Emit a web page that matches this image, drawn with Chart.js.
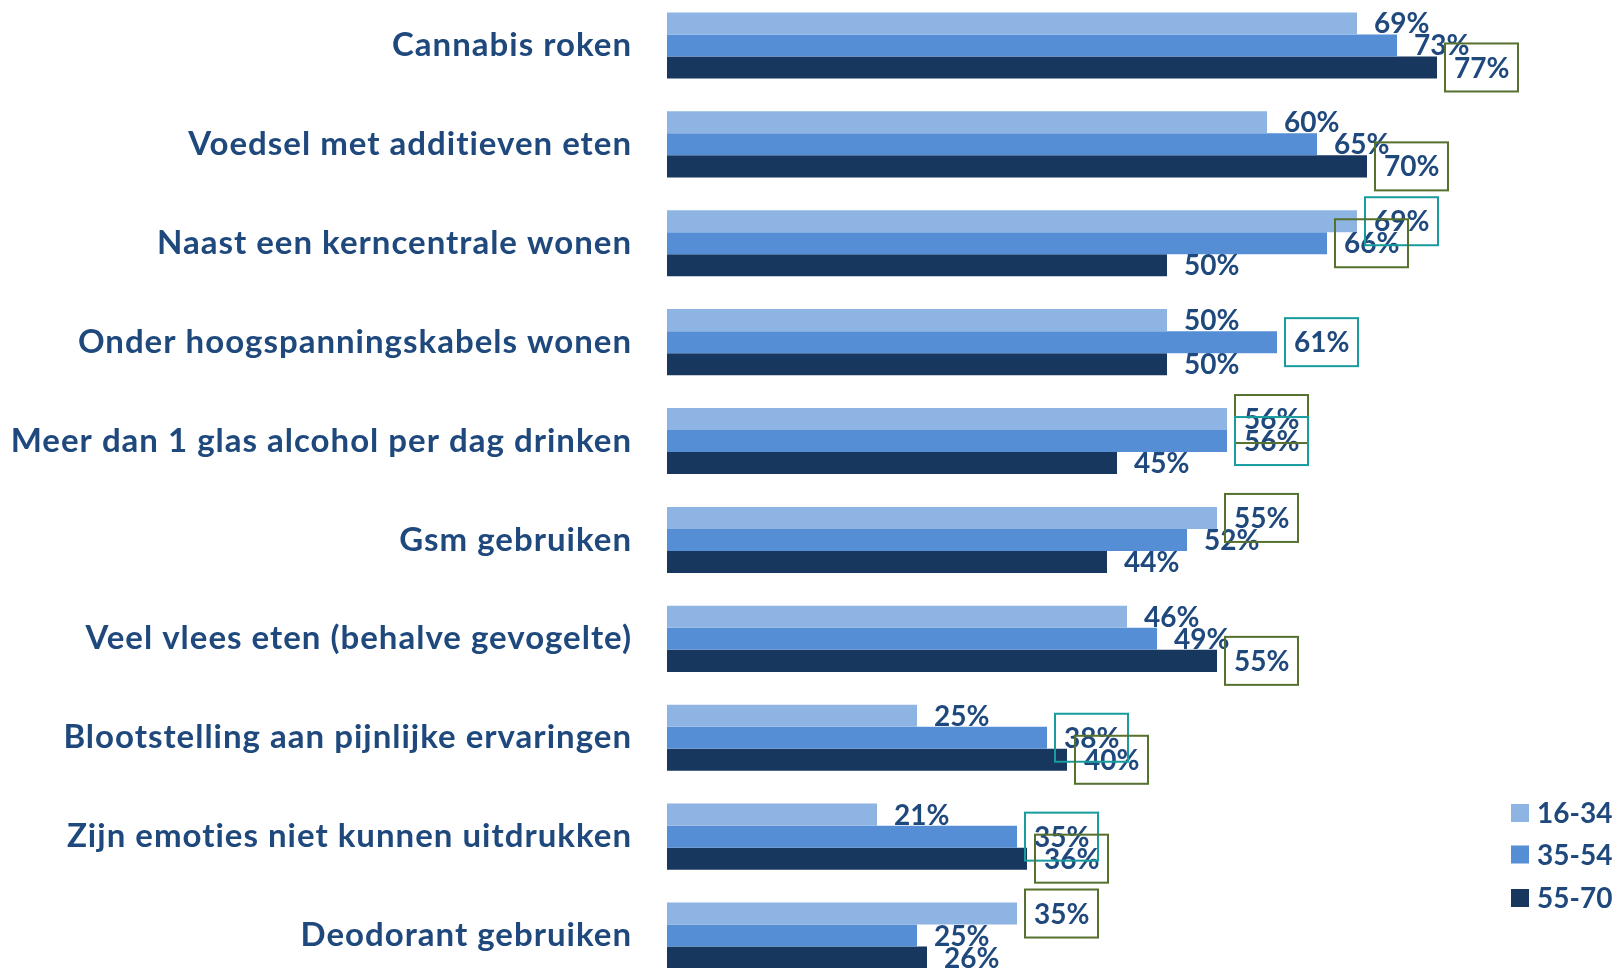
<!DOCTYPE html>
<html>
<head>
<meta charset="utf-8">
<script src="https://cdn.jsdelivr.net/npm/chart.js@4.4.0/dist/chart.umd.min.js"></script>
<style>
  html, body { margin: 0; padding: 0; background: #ffffff; overflow: hidden; }
  #wrap { position: absolute; left: 0; top: -4px; width: 1614px; height: 989px; }
</style>
</head>
<body>
<div id="wrap"><canvas id="c" width="1614" height="989"></canvas></div>
<script>
// ---- Data ----
const categories = [
  "Cannabis roken",
  "Voedsel met additieven eten",
  "Naast een kerncentrale wonen",
  "Onder hoogspanningskabels wonen",
  "Meer dan 1 glas alcohol per dag drinken",
  "Gsm gebruiken",
  "Veel vlees eten (behalve gevogelte)",
  "Blootstelling aan pijnlijke ervaringen",
  "Zijn emoties niet kunnen uitdrukken",
  "Deodorant gebruiken"
];
const seriesNames = ["16-34", "35-54", "55-70"];
const values1634 = [69, 60, 69, 50, 56, 55, 46, 25, 21, 35];
const values3554 = [73, 65, 66, 61, 56, 52, 49, 38, 35, 25];
const values5570 = [77, 70, 50, 50, 45, 44, 55, 40, 36, 26];
// highlight boxes around labels: 'g' = olive, 't' = teal
const boxes1634 = [null, null, 't', null, 'g', 'g', null, null, null, 'g'];
const boxes3554 = [null, null, 'g', 't', 't', null, null, 't', 't', null];
const boxes5570 = ['g', 'g', null, null, null, null, 'g', 'g', 'g', null];

const colors = ['#8EB4E3', '#558ED5', '#17375E'];
const textColor = '#1F497D';
const boxColors = { g: '#56702E', t: '#189C9E' };
const labelFont = '700 28px Lato';
const boxSets = [boxes1634, boxes3554, boxes5570];

const spacing = {
  id: 'spacing',
  beforeDraw(chart) { chart.ctx.letterSpacing = '1px'; },
  afterDatasetsDraw(chart) { chart.ctx.letterSpacing = '0px'; }
};

const valueLabels = {
  id: 'valueLabels',
  afterDatasetsDraw(chart) {
    const ctx = chart.ctx;
    ctx.save();
    ctx.letterSpacing = '0px';
    ctx.font = labelFont;
    ctx.fillStyle = textColor;
    ctx.textAlign = 'left';
    ctx.textBaseline = 'middle';
    chart.data.datasets.forEach((ds, i) => {
      const meta = chart.getDatasetMeta(i);
      meta.data.forEach((bar, j) => {
        ctx.fillText(ds.data[j] + '%', bar.x + 17, bar.y + 1);
      });
    });
    ctx.lineWidth = 2;
    chart.data.datasets.forEach((ds, i) => {
      const meta = chart.getDatasetMeta(i);
      meta.data.forEach((bar, j) => {
        const b = boxSets[i][j];
        if (!b) return;
        ctx.strokeStyle = boxColors[b];
        ctx.strokeRect(bar.x + 8, bar.y - 24, 73, 48);
      });
    });
    ctx.restore();
  }
};

const customLegend = {
  id: 'customLegend',
  afterDraw(chart) {
    const ctx = chart.ctx;
    ctx.save();
    ctx.letterSpacing = '0px';
    ctx.font = labelFont;
    ctx.textAlign = 'left';
    ctx.textBaseline = 'middle';
    const rows = [817, 858.5, 902];
    chart.data.datasets.forEach((ds, i) => {
      ctx.fillStyle = ds.backgroundColor;
      ctx.fillRect(1511, rows[i] - 9, 18, 18);
      ctx.fillStyle = textColor;
      ctx.fillText(ds.label, 1537, rows[i] + 1);
    });
    ctx.restore();
  }
};

new Chart(document.getElementById('c'), {
  type: 'bar',
  data: {
    labels: categories,
    datasets: [
      { label: seriesNames[0], data: values1634, backgroundColor: colors[0] },
      { label: seriesNames[1], data: values3554, backgroundColor: colors[1] },
      { label: seriesNames[2], data: values5570, backgroundColor: colors[2] }
    ]
  },
  options: {
    indexAxis: 'y',
    responsive: false,
    animation: false,
    devicePixelRatio: 1,
    layout: { padding: 0 },
    datasets: {
      bar: {
        categoryPercentage: 0.668,
        barPercentage: 1.0,
        borderWidth: 0
      }
    },
    scales: {
      x: {
        display: false,
        min: 0,
        max: 94.7
      },
      y: {
        grid: { display: false, drawTicks: false },
        border: { display: false },
        ticks: {
          color: textColor,
          font: { family: 'Lato', weight: '700', size: 33 },
          padding: 35
        },
        afterFit(scale) {
          scale.width = 667;
          scale.paddingTop = 0;
          scale.paddingBottom = 0;
        }
      }
    },
    plugins: {
      legend: { display: false },
      tooltip: { enabled: false }
    }
  },
  plugins: [spacing, valueLabels, customLegend]
});
</script>
</body>
</html>
